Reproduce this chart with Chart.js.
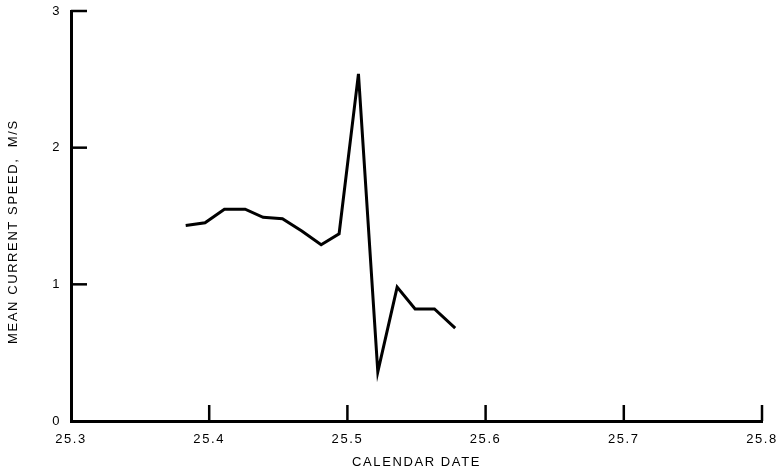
<!DOCTYPE html>
<html>
<head>
<meta charset="utf-8">
<script src="https://cdn.jsdelivr.net/npm/chart.js@4/dist/chart.umd.min.js"></script>
<style>
  html, body { margin: 0; padding: 0; background: #fff; }
  #wrap { width: 781px; height: 475px; }
</style>
</head>
<body>
<div id="wrap"><canvas id="c" width="781" height="475"></canvas></div>
<script>
// Calendar date (day of month, fractional)
const dates = [25.383, 25.397, 25.411, 25.426, 25.439, 25.453, 25.467, 25.481, 25.494, 25.508, 25.522, 25.536, 25.549, 25.563, 25.578];
// Mean current speed, m/s
const speeds = [1.43, 1.45, 1.55, 1.55, 1.49, 1.48, 1.39, 1.29, 1.37, 2.54, 0.36, 0.98, 0.82, 0.82, 0.68];
const xTicks = [25.3, 25.4, 25.5, 25.6, 25.7, 25.8];
const yTicks = [0, 1, 2, 3];
const xTitle = 'CALENDAR DATE';
const yTitle = 'MEAN CURRENT SPEED,  M/S';

const FONT = 'Liberation Sans, Arial, Helvetica, sans-serif';
const SPACING = '1.6px';

const spacingPlugin = {
  id: 'spacing',
  beforeUpdate(chart) { chart.ctx.letterSpacing = SPACING; },
  beforeLayout(chart) { chart.ctx.letterSpacing = SPACING; },
  beforeDraw(chart) { chart.ctx.letterSpacing = SPACING; }
};

const inwardTicks = {
  id: 'inwardTicks',
  afterDraw(chart) {
    const ctx = chart.ctx;
    const xs = chart.scales.x, ys = chart.scales.y;
    const area = chart.chartArea;
    const len = 16;
    ctx.save();
    ctx.strokeStyle = '#000';
    ctx.lineWidth = 2.5;
    ctx.lineCap = 'butt';
    xTicks.forEach(v => {
      if (v === xTicks[0]) return;
      const px = xs.getPixelForValue(v);
      ctx.beginPath();
      ctx.moveTo(px, area.bottom);
      ctx.lineTo(px, area.bottom - len);
      ctx.stroke();
    });
    yTicks.forEach(v => {
      if (v === yTicks[0]) return;
      const py = ys.getPixelForValue(v);
      ctx.beginPath();
      ctx.moveTo(area.left, py);
      ctx.lineTo(area.left + len, py);
      ctx.stroke();
    });
    ctx.restore();
  }
};

new Chart(document.getElementById('c'), {
  type: 'line',
  data: {
    datasets: [{
      data: dates.map((d, i) => ({ x: d, y: speeds[i] })),
      borderColor: '#000',
      borderWidth: 3,
      pointRadius: 0,
      tension: 0,
      fill: false
    }]
  },
  options: {
    responsive: false,
    animation: false,
    devicePixelRatio: 1,
    layout: { padding: { top: 11, right: 19, left: 0, bottom: 0 } },
    plugins: { legend: { display: false }, tooltip: { enabled: false } },
    scales: {
      x: {
        type: 'linear',
        min: xTicks[0],
        max: xTicks[xTicks.length - 1],
        afterBuildTicks: s => { s.ticks = xTicks.map(v => ({ value: v })); },
        afterFit: s => { s.height = 54; s.paddingLeft = 0; s.paddingRight = 0; },
        grid: { display: true, drawOnChartArea: false, drawTicks: false },
        border: { display: true, color: '#000', width: 3 },
        ticks: {
          color: '#000',
          padding: 11,
          font: { family: FONT, size: 13 },
          callback: v => Number(v).toFixed(1)
        },
        title: {
          display: true,
          text: xTitle,
          color: '#000',
          font: { family: FONT, size: 13 },
          padding: { top: 0, bottom: 5 }
        }
      },
      y: {
        type: 'linear',
        min: yTicks[0],
        max: yTicks[yTicks.length - 1],
        afterBuildTicks: s => { s.ticks = yTicks.map(v => ({ value: v })); },
        afterFit: s => { s.width = 71; s.paddingTop = 0; s.paddingBottom = 0; },
        grid: { display: true, drawOnChartArea: false, drawTicks: false },
        border: { display: true, color: '#000', width: 3 },
        ticks: {
          color: '#000',
          padding: 10,
          font: { family: FONT, size: 13 },
          callback: v => String(v)
        },
        title: {
          display: true,
          text: yTitle + '      ',
          color: '#000',
          font: { family: FONT, size: 13 },
          padding: { top: 6, bottom: 0 }
        }
      }
    }
  },
  plugins: [spacingPlugin, inwardTicks]
});
</script>
</body>
</html>
